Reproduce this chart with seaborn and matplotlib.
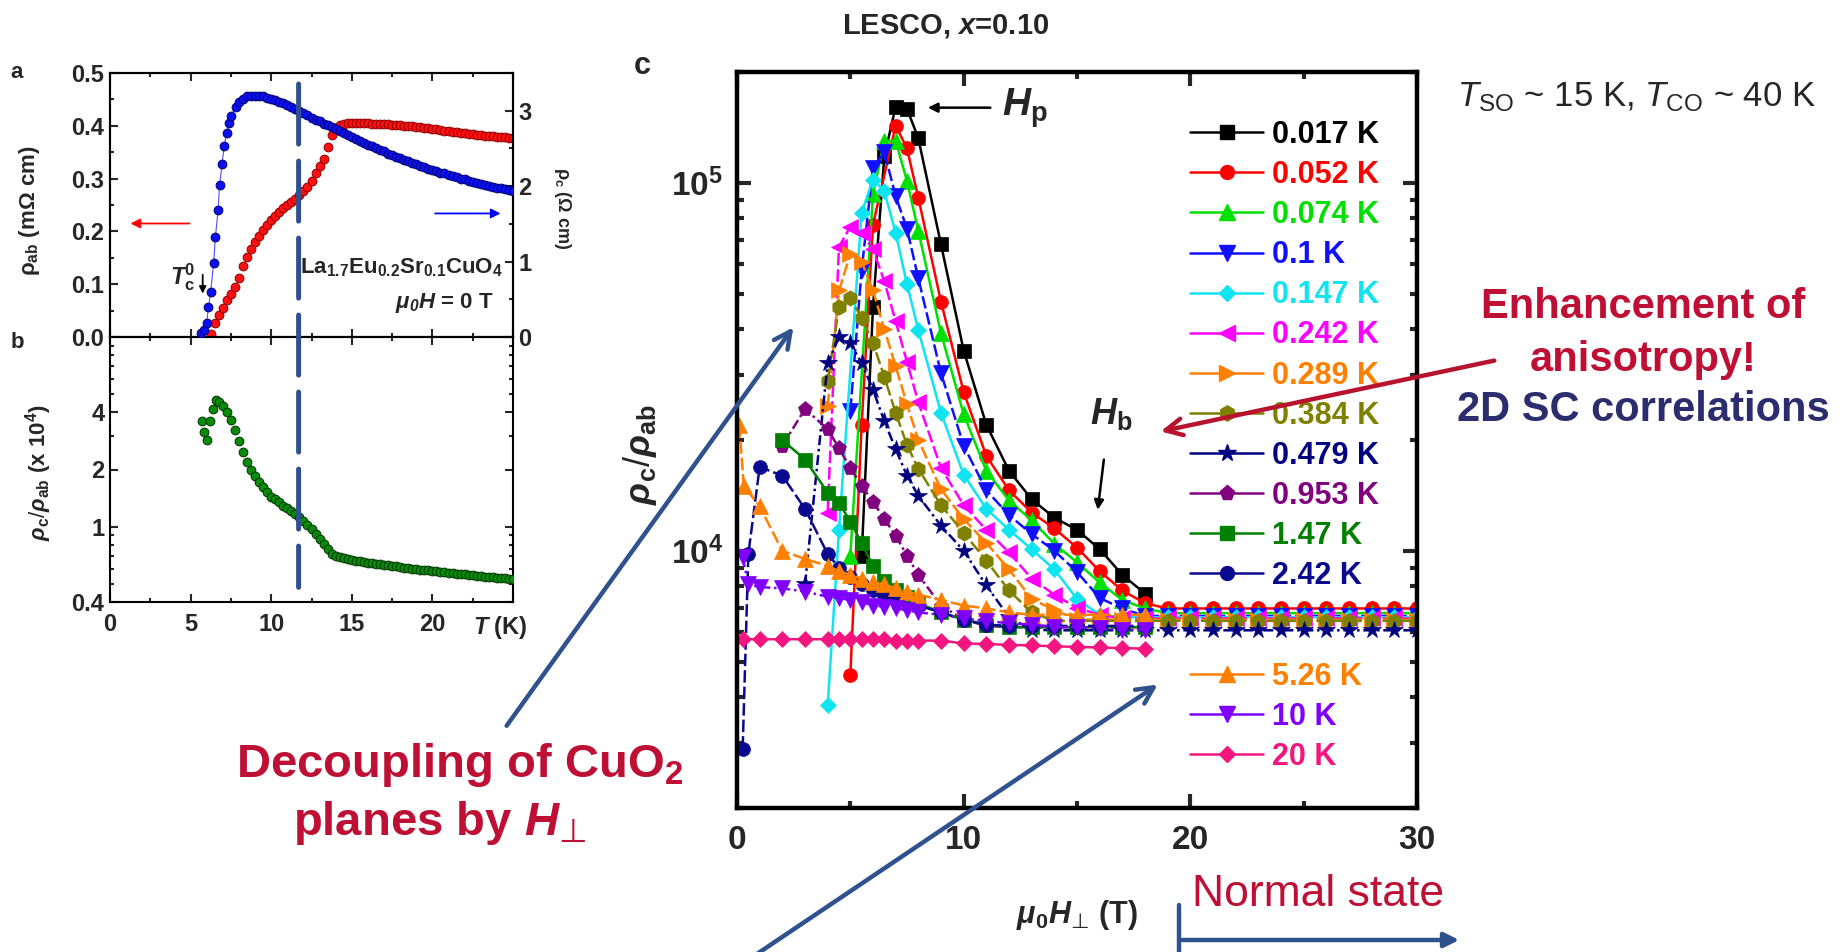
import numpy as np
import pandas as pd
import matplotlib
matplotlib.use('Agg')
import matplotlib.pyplot as plt
import seaborn as sns
from matplotlib.lines import Line2D
from matplotlib.patches import FancyArrowPatch, ConnectionPatch
from matplotlib.ticker import MultipleLocator, LogLocator, NullFormatter, FuncFormatter

# ---------------- panel a / b data ----------------
# rho_c (Ohm cm), sparse points on the steep rise
Tc_sparse = [5.64, 5.85, 6.0, 6.11, 6.24, 6.43, 6.54, 6.71, 6.80, 6.95, 7.08, 7.23, 7.36, 7.52, 7.79]
rc_sparse = [0.05, 0.09, 0.19, 0.40, 0.59, 0.98, 1.33, 1.69, 2.02, 2.29, 2.53, 2.70, 2.84, 2.93, 3.05]
# rho_c dense part, starting 8.0 K every 0.25 K
rc_dense_start = 8.0
rc_dense = [3.12, 3.16, 3.19, 3.20, 3.20, 3.20, 3.19, 3.17, 3.15, 3.14, 3.12, 3.10, 3.07, 3.05, 3.02, 3.00,
            2.97, 2.94, 2.91, 2.88, 2.86, 2.83, 2.81, 2.78, 2.76, 2.73, 2.70, 2.68, 2.65, 2.63, 2.60, 2.57,
            2.55, 2.53, 2.50, 2.48, 2.46, 2.43, 2.41, 2.39, 2.37, 2.35, 2.33, 2.31, 2.29, 2.27, 2.25, 2.23,
            2.22, 2.20, 2.18, 2.17, 2.15, 2.13, 2.12, 2.10, 2.09, 2.07, 2.06, 2.04, 2.03, 2.02, 2.00, 1.99,
            1.98, 1.97, 1.96, 1.95, 1.94]
# rho_ab (mOhm cm), starting 6.25 K every 0.25 K
rab_start = 6.25
rab = [0.005, 0.027, 0.042, 0.055, 0.070, 0.082, 0.094, 0.112, 0.135, 0.152, 0.167, 0.180, 0.192, 0.203,
       0.213, 0.222, 0.230, 0.237, 0.244, 0.250, 0.256, 0.262, 0.269, 0.276, 0.285, 0.296, 0.310, 0.324,
       0.338, 0.360, 0.383, 0.395, 0.401, 0.404, 0.405, 0.405, 0.405, 0.405, 0.405, 0.405, 0.404, 0.404,
       0.404, 0.403, 0.403, 0.402, 0.402, 0.401, 0.400, 0.400, 0.399, 0.398, 0.397, 0.396, 0.395, 0.394,
       0.393, 0.392, 0.391, 0.390, 0.389, 0.388, 0.387, 0.386, 0.385, 0.384, 0.383, 0.382, 0.381, 0.380,
       0.380, 0.379, 0.378, 0.378, 0.377, 0.377]
# rho_c/rho_ab (x 1e4)
ratio_T_sparse = [5.70, 5.85, 6.00, 6.21, 6.40, 6.60]
ratio_sparse = [3.59, 3.14, 2.86, 3.59, 4.18, 4.66]
ratio_start = 6.75
ratio_dense = [4.55, 4.30, 4.02, 3.66, 3.22, 2.83, 2.48, 2.20, 2.00, 1.85, 1.72, 1.61, 1.52, 1.44, 1.39,
               1.34, 1.29, 1.25, 1.21, 1.17, 1.12, 1.07, 1.02, 0.97, 0.91, 0.86, 0.81, 0.76, 0.72, 0.70,
               0.69, 0.68, 0.675, 0.668, 0.662, 0.656, 0.650, 0.645, 0.640, 0.636, 0.632, 0.628, 0.624,
               0.620, 0.616, 0.612, 0.608, 0.604, 0.600, 0.597, 0.593, 0.590, 0.587, 0.584, 0.580, 0.577,
               0.574, 0.571, 0.568, 0.565, 0.562, 0.559, 0.556, 0.553, 0.550, 0.547, 0.545, 0.542, 0.540,
               0.537, 0.535, 0.533, 0.531, 0.529]

# ---------------- panel c data ----------------
tail_H = [19, 20, 21, 22, 23, 24, 25, 26, 27, 28, 29, 30]
labels_c = ['0.017 K', '0.052 K', '0.074 K', '0.1 K', '0.147 K', '0.242 K', '0.289 K', '0.384 K',
            '0.479 K', '0.953 K', '1.47 K', '2.42 K', '5.26 K', '10 K', '20 K']
H_c = [
    [5.5, 6.0, 6.5, 7.0, 7.5, 8, 9, 10, 11, 12, 13, 14, 15, 16, 17, 18],
    [5.0, 5.5, 6.0, 7.0, 7.5, 8, 9, 10, 11, 12, 13, 14, 15, 16, 17, 18] + tail_H,
    [5.0, 6.0, 6.5, 7.0, 7.5, 8, 9, 10, 11, 12, 13, 14, 15, 16, 17, 18] + tail_H,
    [5.0, 5.5, 6.0, 6.5, 7.0, 7.5, 8, 9, 10, 11, 12, 13, 14, 15, 16, 17, 18] + tail_H,
    [4.0, 4.5, 5.5, 6.0, 6.5, 7.0, 7.5, 8, 9, 10, 11, 12, 13, 14, 15, 16, 17, 18] + tail_H,
    [4.0, 4.5, 5.0, 5.5, 6.0, 6.5, 7.0, 7.5, 8, 9, 10, 11, 12, 13, 14, 15, 16, 17, 18] + tail_H,
    [4.0, 4.5, 5.0, 5.5, 6.0, 6.5, 7.0, 7.5, 8, 9, 10, 11, 12, 13, 14, 15, 16, 17, 18] + tail_H,
    [4.0, 4.5, 5.0, 5.5, 6.0, 6.5, 7.0, 7.5, 8, 9, 10, 11, 12, 13, 14, 15, 16, 17, 18] + tail_H,
    [3.0, 4.0, 4.5, 5.0, 5.5, 6.0, 6.5, 7.0, 7.5, 8, 9, 10, 11, 12, 13, 14, 15, 16, 17, 18] + tail_H,
    [2.0, 3.0, 4.0, 4.5, 5.0, 5.5, 6.0, 6.5, 7.0, 7.5, 8, 9, 10, 11, 12, 13, 14, 15, 16, 17, 18],
    [2.0, 3.0, 4.0, 4.5, 5.0, 5.5, 6.0, 6.5, 7.0, 7.5, 8, 9, 10, 11, 12, 13, 14, 15, 16, 17, 18],
    [0.25, 0.5, 1.0, 2.0, 3.0, 4.0, 4.5, 5.0, 5.5, 6.0, 6.5, 7.0, 8, 9, 10, 11, 12, 13, 14, 15, 16, 17, 18],
    [0.1, 0.3, 1.0, 2.0, 3.0, 4.0, 4.5, 5.0, 5.5, 6.0, 6.5, 7.0, 7.5, 8, 9, 10, 11, 12, 13, 14, 15, 16, 17, 18],
    [0.25, 0.5, 1.0, 2.0, 3.0, 4.0, 4.5, 5.0, 5.5, 6.0, 6.5, 7.0, 7.5, 8, 9, 10, 11, 12, 13, 14, 15, 16, 17, 18],
    [0.25, 1.0, 2.0, 3.0, 4.0, 4.5, 5.0, 5.5, 6.0, 6.5, 7.0, 7.5, 8, 9, 10, 11, 12, 13, 14, 15, 16, 17, 18],
]
R_c = [
    [9.7e3, 4.6e4, 1.18e5, 1.61e5, 1.59e5, 1.32e5, 6.8e4, 3.5e4, 2.2e4, 1.65e4, 1.38e4, 1.23e4, 1.14e4,
     1.01e4, 8.6e3, 7.65e3],
    [4.6e3, 2.2e4, 7.7e4, 1.43e5, 1.24e5, 9.1e4, 4.75e4, 2.7e4, 1.81e4, 1.46e4, 1.27e4, 1.15e4, 1.02e4,
     8.8e3, 7.8e3, 7.2e3, 6.97e3, 6.97e3, 6.97e3, 6.97e3, 6.97e3, 6.97e3, 6.97e3, 6.97e3, 6.97e3, 6.97e3,
     6.97e3, 6.97e3],
    [9.7e3, 9.3e4, 1.3e5, 1.3e5, 1.01e5, 7.4e4, 3.9e4, 2.35e4, 1.65e4, 1.37e4, 1.21e4, 1.045e4, 9.3e3,
     8.2e3, 7.35e3, 6.97e3, 6.77e3, 6.77e3, 6.77e3, 6.77e3, 6.77e3, 6.77e3, 6.77e3, 6.77e3, 6.77e3,
     6.77e3, 6.77e3, 6.77e3],
    [2.4e4, 5.8e4, 1.1e5, 1.21e5, 9.2e4, 7.5e4, 5.5e4, 3.04e4, 1.93e4, 1.46e4, 1.25e4, 1.11e4, 1.0e4,
     8.76e3, 7.44e3, 6.97e3, 6.65e3, 6.65e3, 6.65e3, 6.65e3, 6.65e3, 6.65e3, 6.65e3, 6.65e3, 6.65e3,
     6.65e3, 6.65e3, 6.65e3, 6.65e3],
    [3.8e3, 1.14e4, 8.3e4, 1.02e5, 9.5e4, 7.3e4, 5.3e4, 3.98e4, 2.37e4, 1.61e4, 1.3e4, 1.14e4, 1.01e4,
     8.9e3, 7.4e3, 6.7e3, 6.6e3, 6.6e3, 6.6e3, 6.6e3, 6.6e3, 6.6e3, 6.6e3, 6.6e3, 6.6e3, 6.6e3, 6.6e3,
     6.6e3, 6.6e3, 6.6e3],
    [1.27e4, 6.7e4, 7.6e4, 7.3e4, 6.6e4, 5.4e4, 4.2e4, 3.26e4, 2.53e4, 1.68e4, 1.33e4, 1.14e4, 9.9e3,
     8.4e3, 7.6e3, 7.0e3, 6.7e3, 6.55e3, 6.55e3, 6.55e3, 6.55e3, 6.55e3, 6.55e3, 6.55e3, 6.55e3, 6.55e3,
     6.55e3, 6.55e3, 6.55e3, 6.55e3, 6.55e3],
    [2.47e4, 5.1e4, 6.4e4, 6.1e4, 5.1e4, 4.0e4, 3.17e4, 2.5e4, 2.0e4, 1.47e4, 1.22e4, 1.05e4, 8.9e3,
     7.4e3, 6.9e3, 6.5e3, 6.5e3, 6.5e3, 6.5e3, 6.5e3, 6.5e3, 6.5e3, 6.5e3, 6.5e3, 6.5e3, 6.5e3, 6.5e3,
     6.5e3, 6.5e3, 6.5e3, 6.5e3],
    [2.9e4, 4.6e4, 4.85e4, 4.3e4, 3.67e4, 2.97e4, 2.37e4, 1.94e4, 1.67e4, 1.33e4, 1.12e4, 9.4e3, 7.8e3,
     6.8e3, 6.45e3, 6.45e3, 6.45e3, 6.45e3, 6.45e3, 6.45e3, 6.45e3, 6.45e3, 6.45e3, 6.45e3, 6.45e3,
     6.45e3, 6.45e3, 6.45e3, 6.45e3, 6.45e3, 6.45e3],
    [8.1e3, 3.24e4, 3.8e4, 3.66e4, 3.24e4, 2.74e4, 2.25e4, 1.89e4, 1.6e4, 1.41e4, 1.17e4, 1.0e4, 8.05e3,
     6.6e3, 6.1e3, 6.08e3, 6.08e3, 6.08e3, 6.08e3, 6.08e3, 6.08e3, 6.08e3, 6.08e3, 6.08e3, 6.08e3,
     6.08e3, 6.08e3, 6.08e3, 6.08e3, 6.08e3, 6.08e3, 6.08e3],
    [1.93e4, 2.43e4, 2.14e4, 1.9e4, 1.68e4, 1.5e4, 1.36e4, 1.22e4, 1.1e4, 9.7e3, 8.6e3, 7.1e3, 6.5e3,
     6.25e3, 6.2e3, 6.2e3, 6.2e3, 6.2e3, 6.2e3, 6.2e3, 6.2e3],
    [2.0e4, 1.77e4, 1.44e4, 1.35e4, 1.2e4, 1.05e4, 9.1e3, 8.3e3, 7.8e3, 7.5e3, 7.2e3, 6.8e3, 6.5e3,
     6.3e3, 6.2e3, 6.2e3, 6.2e3, 6.2e3, 6.2e3, 6.2e3, 6.2e3],
    [2.9e3, 9.8e3, 1.69e4, 1.6e4, 1.3e4, 9.8e3, 9.0e3, 8.5e3, 8.1e3, 7.8e3, 7.6e3, 7.4e3, 7.1e3, 6.8e3,
     6.5e3, 6.3e3, 6.25e3, 6.25e3, 6.25e3, 6.25e3, 6.25e3, 6.25e3, 6.25e3],
    [2.2e4, 1.5e4, 1.32e4, 1.0e4, 9.5e3, 9.1e3, 8.8e3, 8.6e3, 8.4e3, 8.2e3, 8.1e3, 7.9e3, 7.75e3, 7.6e3,
     7.35e3, 7.1e3, 6.97e3, 6.8e3, 6.7e3, 6.7e3, 6.7e3, 6.7e3, 6.7e3, 6.7e3],
    [9.6e3, 8.1e3, 7.97e3, 7.9e3, 7.75e3, 7.5e3, 7.44e3, 7.35e3, 7.25e3, 7.1e3, 7.05e3, 6.97e3, 6.9e3,
     6.8e3, 6.7e3, 6.55e3, 6.45e3, 6.35e3, 6.3e3, 6.2e3, 6.2e3, 6.15e3, 6.1e3, 6.1e3],
    [5.75e3, 5.75e3, 5.75e3, 5.75e3, 5.75e3, 5.75e3, 5.75e3, 5.75e3, 5.75e3, 5.75e3, 5.7e3, 5.7e3, 5.7e3,
     5.7e3, 5.6e3, 5.58e3, 5.55e3, 5.53e3, 5.5e3, 5.48e3, 5.46e3, 5.44e3, 5.42e3],
]
colors_c = ['#000000', '#FF0000', '#00E000', '#1010FF', '#10E4F0', '#FF00FF', '#FF8000', '#808000',
            '#000080', '#800080', '#008000', '#0A0A90', '#FF8000', '#8000FF', '#F5157F']
markers_c = ['s', 'o', '^', 'v', 'D', '<', '>', 'h', '*', 'p', 's', 'o', '^', 'v', 'D']
msize_c = [9.5, 10, 11, 11, 8.5, 11, 11, 11, 13, 11, 9.5, 10, 11, 11, 8.5]
dash_long = (0, (5, 1.6))
dashdot = (0, (4, 1.5, 1, 1.5))
styles_c = ['-', '-', '-', dash_long, '-', dash_long, dash_long, dash_long, dashdot, dashdot, '-',
            dash_long, dash_long, dashdot, '-']

# ---------------- style ----------------
sns.set_theme(style='ticks')
plt.rcParams['font.family'] = ['Liberation Sans', 'DejaVu Sans']
plt.rcParams['font.weight'] = 'bold'
plt.rcParams['axes.labelweight'] = 'bold'
plt.rcParams['mathtext.fontset'] = 'custom'
plt.rcParams['mathtext.rm'] = 'Liberation Sans:weight=normal'
plt.rcParams['mathtext.it'] = 'Liberation Sans:style=italic:weight=normal'
plt.rcParams['mathtext.bf'] = 'Liberation Sans:weight=bold'
plt.rcParams['mathtext.sf'] = 'DejaVu Sans:weight=normal'
try:
    plt.rcParams['mathtext.bfit'] = 'Liberation Sans:style=italic:weight=bold'
except Exception:
    pass
plt.rcParams['axes.facecolor'] = 'white'

W, HH = 1842, 952
fig = plt.figure(figsize=(W / 100, HH / 100), dpi=100)
fig.patch.set_facecolor('white')


def rect(l, t, r, b):
    return [l / W, 1 - b / HH, (r - l) / W, (b - t) / HH]


def fx(px):
    return px / W


def fy(py):
    return 1 - py / HH


ax_a = fig.add_axes(rect(110, 73, 513, 337))
ax_b = fig.add_axes(rect(110, 337, 513, 602))
ax_c = fig.add_axes(rect(737, 72, 1417, 808))
ax_a2 = ax_a.twinx()

# ---------------- panel a ----------------
T_rab = np.round(rab_start + 0.25 * np.arange(len(rab)), 2)
T_rc_dense = np.round(rc_dense_start + 0.25 * np.arange(len(rc_dense)), 2)
T_rc = list(Tc_sparse) + list(T_rc_dense)
rc_all = list(rc_sparse) + list(rc_dense)

sns.scatterplot(x=T_rab, y=rab, ax=ax_a, color='#FF1010', edgecolor='#8B0000', s=40,
                linewidth=0.7, legend=False, zorder=3)
sns.lineplot(x=T_rc, y=rc_all, ax=ax_a2, color='#5050FF', linewidth=0.8, legend=False,
             estimator=None, sort=False, zorder=2)
sns.scatterplot(x=T_rc, y=rc_all, ax=ax_a2, color='#0A10F0', edgecolor='#000070', s=40,
                linewidth=0.7, legend=False, zorder=3)

ax_a.set_xlim(0, 25)
ax_a.set_ylim(0, 0.5)
ax_a2.set_ylim(0, 3.5)
ax_a.xaxis.set_major_locator(MultipleLocator(5))
ax_a.xaxis.set_minor_locator(MultipleLocator(2.5))
ax_a.yaxis.set_major_locator(MultipleLocator(0.1))
ax_a.yaxis.set_minor_locator(MultipleLocator(0.05))
ax_a2.yaxis.set_major_locator(MultipleLocator(1))
ax_a2.yaxis.set_minor_locator(MultipleLocator(0.5))
for ax in (ax_a, ax_a2):
    ax.tick_params(which='both', direction='in', width=1.5, labelsize=17, pad=4)
    ax.tick_params(which='major', length=6)
    ax.tick_params(which='minor', length=3)
ax_a.tick_params(axis='x', which='both', top=True, bottom=True, labelbottom=False)
for ax in (ax_a, ax_a2, ax_b):
    for s in ax.spines.values():
        s.set_linewidth(1.5)
        s.set_color('black')
ax_a.set_xlabel('')
ax_a.set_ylabel('ρ$_{\\mathbf{ab}}$ (mΩ cm)', fontsize=16, ha='center', va='center')
ax_a.yaxis.set_label_coords(-0.2, 0.48)
ax_a2.set_ylabel('ρ$_{\\mathbf{c}}$ (Ω cm)', fontsize=13, rotation=270, ha='center', va='center')
ax_a2.yaxis.set_label_coords(1.124, 0.49)

ax_a.annotate('', xy=(1.1, 0.215), xytext=(5.1, 0.215),
              arrowprops=dict(arrowstyle='-|>', color='#FF0000', lw=1.3, mutation_scale=14))
ax_a.annotate('', xy=(24.4, 0.234), xytext=(20.0, 0.234),
              arrowprops=dict(arrowstyle='-|>', color='#0000FF', lw=1.3, mutation_scale=14))
ax_a.text(4.5, 0.113, r'$\mathbfit{T}_{\mathbf{c}}^{\mathbf{0}}$', fontsize=17, ha='center', va='center')
ax_a.annotate('', xy=(5.75, 0.077), xytext=(5.75, 0.123),
              arrowprops=dict(arrowstyle='-|>', color='black', lw=1.3, mutation_scale=10))
ax_a.text(24.4, 0.132, r'La$_{\mathbf{1.7}}$Eu$_{\mathbf{0.2}}$Sr$_{\mathbf{0.1}}$CuO$_{\mathbf{4}}$',
          fontsize=16, ha='right', va='center')
ax_a.text(23.8, 0.064, r'$\mathbfit{\mu}_{\mathbfit{0}}\mathbfit{H}$ = 0 T', fontsize=16,
          ha='right', va='center')

# ---------------- panel b ----------------
T_ratio = list(ratio_T_sparse) + list(np.round(ratio_start + 0.25 * np.arange(len(ratio_dense)), 2))
ratio_all = list(ratio_sparse) + list(ratio_dense)
ax_b.set_yscale('log')
sns.scatterplot(x=T_ratio, y=ratio_all, ax=ax_b, color='#0A8A0A', edgecolor='#003300', s=40,
                linewidth=0.7, legend=False, zorder=3)
ax_b.set_xlim(0, 25)
ax_b.set_ylim(0.4, 10)
ax_b.set_xticks([0, 5, 10, 15, 20, 25])
ax_b.set_xticklabels(['0', '5', '10', '15', '20', ''])
ax_b.xaxis.set_minor_locator(MultipleLocator(2.5))
ax_b.set_yticks([0.4, 1, 2, 4])
ax_b.set_yticklabels(['0.4', '1', '2', '4'])
ax_b.yaxis.set_minor_locator(LogLocator(base=10, subs=np.arange(2, 10)))
ax_b.yaxis.set_minor_formatter(NullFormatter())
ax_b.tick_params(which='both', direction='in', top=True, right=True, width=1.5, labelsize=17)
ax_b.tick_params(which='major', length=6)
ax_b.tick_params(which='minor', length=3)
ax_b.tick_params(axis='x', pad=8)
ax_b.tick_params(axis='y', pad=4)
ax_b.set_xlabel('')
ax_b.set_ylabel(r'$\mathbfit{\rho}_{\mathbf{c}}/\mathbfit{\rho}_{\mathbf{ab}}$ (x 10$^{\mathbf{4}}$)',
                fontsize=16, ha='center', va='center')
ax_b.yaxis.set_label_coords(-0.178, 0.49)
ax_b.annotate(r'$\mathbfit{T}$ (K)', xy=(24.2, 0), xycoords=('data', 'axes fraction'),
              xytext=(0, -8.5), textcoords='offset points', ha='center', va='top', fontsize=17)

# dashed vertical line across a and b
con = ConnectionPatch(xyA=(11.7, 0.479), coordsA=ax_a.transData, xyB=(11.7, 0.478),
                      coordsB=ax_b.transData, color='#2F4F8F', lw=3.6,
                      linestyle=(0, (12, 3.4)), zorder=6)
fig.add_artist(con)

# ---------------- panel c ----------------
ax_c.set_yscale('log')
for i in range(len(labels_c)):
    sns.lineplot(x=H_c[i], y=R_c[i], ax=ax_c, color=colors_c[i], marker=markers_c[i],
                 markersize=msize_c[i], markeredgecolor=colors_c[i], markeredgewidth=0.5,
                 linestyle=styles_c[i], linewidth=1.8, estimator=None, legend=False)
ax_c.set_xlim(0, 30)
ax_c.set_ylim(2e3, 2e5)
ax_c.set_xticks([0, 10, 20, 30])
ax_c.xaxis.set_minor_locator(MultipleLocator(5))
ax_c.yaxis.set_major_locator(LogLocator(base=10))
ax_c.yaxis.set_major_formatter(FuncFormatter(lambda v, p: r'$\mathbf{10^{%d}}$' % int(round(np.log10(v)))))
ax_c.yaxis.set_minor_locator(LogLocator(base=10, subs=np.arange(2, 10)))
ax_c.yaxis.set_minor_formatter(NullFormatter())
ax_c.tick_params(which='both', direction='in', top=True, right=True, width=3)
ax_c.tick_params(which='major', length=10)
ax_c.tick_params(which='minor', length=5)
ax_c.tick_params(axis='x', labelsize=24, pad=12)
ax_c.tick_params(axis='y', labelsize=24, pad=10)
for s in ax_c.spines.values():
    s.set_linewidth(3.2)
    s.set_color('black')
ax_c.set_xlabel(r'$\mathbfit{\mu}_{\mathbf{0}}\mathbfit{H}_{\mathsf{⊥}}$ (T)', fontsize=22,
                ha='center', va='center')
ax_c.xaxis.set_label_coords(0.5, -0.145)
ax_c.set_ylabel(r'$\mathbfit{\rho}_{\mathbf{c}}/\mathbfit{\rho}_{\mathbf{ab}}$', fontsize=26,
                ha='center', va='center')
ax_c.yaxis.set_label_coords(-0.143, 0.48)

ax_c.text(11.7, 1.6e5, r'$\mathbfit{H}_{\mathbf{p}}$', fontsize=28, ha='left', va='center')
ax_c.annotate('', xy=(8.3, 1.6e5), xytext=(11.3, 1.6e5),
              arrowprops=dict(arrowstyle='-|>', color='black', lw=1.8, mutation_scale=14))
ax_c.text(16.5, 2.35e4, r'$\mathbfit{H}_{\mathbf{b}}$', fontsize=26, ha='center', va='center')
ax_c.annotate('', xy=(15.9, 1.27e4), xytext=(16.2, 1.8e4),
              arrowprops=dict(arrowstyle='-|>', color='black', lw=1.8, mutation_scale=14))

handles = [Line2D([], [], color=colors_c[i], marker=markers_c[i], markersize=msize_c[i],
                  markeredgecolor=colors_c[i], linestyle='-', linewidth=1.8) for i in range(len(labels_c))]
leg_kw = dict(frameon=False, handlelength=2.4, handletextpad=0.3, labelspacing=0.33, borderpad=0,
              borderaxespad=0, prop={'weight': 'bold', 'size': 22}, numpoints=1,
              bbox_transform=fig.transFigure, loc='upper left')
leg1 = ax_c.legend(handles[:12], labels_c[:12], bbox_to_anchor=(fx(1190), fy(120)), **leg_kw)
for t, c in zip(leg1.get_texts(), colors_c[:12]):
    t.set_color(c)
ax_c.add_artist(leg1)
leg2 = ax_c.legend(handles[12:], labels_c[12:], bbox_to_anchor=(fx(1190), fy(662)), **leg_kw)
for t, c in zip(leg2.get_texts(), colors_c[12:]):
    t.set_color(c)

# ---------------- figure-level text ----------------
fig.text(fx(17), fy(73), 'a', fontsize=16, ha='center', va='center')
fig.text(fx(17), fy(342), 'b', fontsize=16, ha='center', va='center')
fig.text(fx(642), fy(66), 'c', fontsize=22, ha='center', va='center')
fig.text(fx(946), fy(26), r'LESCO, $\mathbfit{x}$=0.10', fontsize=21, ha='center', va='center')
fig.text(fx(1457), fy(97), r'$\mathit{T}_{\mathrm{SO}}$ ~ 15 K, $\mathit{T}_{\mathrm{CO}}$ ~ 40 K',
         fontsize=25, weight='normal', ha='left', va='center')
crimson = '#BE0F34'
navy_txt = '#2B2D6E'
fig.text(fx(1643), fy(307), 'Enhancement of', fontsize=30, color=crimson, ha='center', va='center')
fig.text(fx(1643), fy(360), 'anisotropy!', fontsize=30, color=crimson, ha='center', va='center')
fig.text(fx(1643), fy(410), '2D SC correlations', fontsize=30, color=navy_txt, ha='center', va='center')
fig.text(fx(460), fy(765), r'Decoupling of CuO$_{\mathbf{2}}$', fontsize=34, color=crimson,
         ha='center', va='center')
fig.text(fx(440), fy(823), r'planes by $\mathbfit{H}_{\mathsf{⊥}}$', fontsize=34, color=crimson,
         ha='center', va='center')
fig.text(fx(1192), fy(895), 'Normal state', fontsize=32, color=crimson, weight='normal',
         ha='left', va='center')

arrow_col = '#2F528F'
fig.add_artist(FancyArrowPatch((fx(505), fy(728)), (fx(795), fy(325)), transform=fig.transFigure,
                               arrowstyle='->', mutation_scale=30, lw=3.2, color=arrow_col))
fig.add_artist(FancyArrowPatch((fx(745), fy(962)), (fx(1160), fy(683)), transform=fig.transFigure,
                               arrowstyle='->', mutation_scale=30, lw=3.2, color=arrow_col))
fig.add_artist(FancyArrowPatch((fx(1497), fy(360)), (fx(1158), fy(432)), transform=fig.transFigure,
                               arrowstyle='->', mutation_scale=30, lw=3.2, color='#B8132E'))
fig.add_artist(Line2D([fx(1179), fx(1179)], [fy(905), fy(952)], transform=fig.transFigure,
                      color=arrow_col, lw=3.2))
fig.add_artist(FancyArrowPatch((fx(1179), fy(940)), (fx(1462), fy(940)), transform=fig.transFigure,
                               arrowstyle='-|>', mutation_scale=22, lw=3.2, color=arrow_col))

fig.savefig('out.png', dpi=100, facecolor='white')
